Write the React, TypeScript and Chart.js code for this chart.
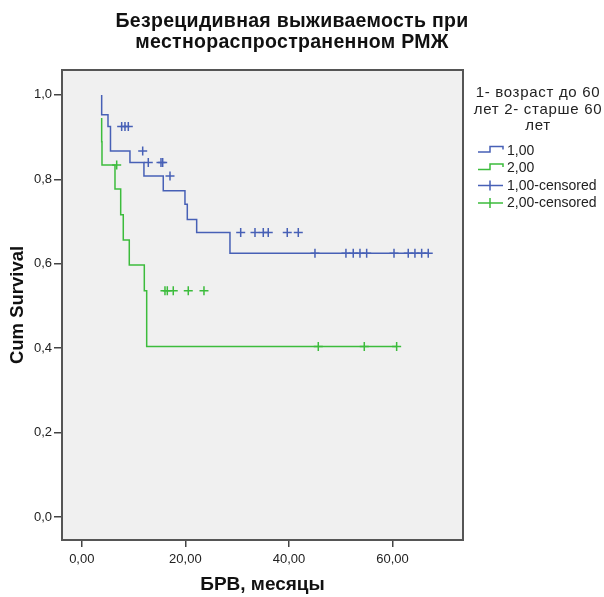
import React, { useEffect, useRef } from "react";
import { Chart, registerables } from "chart.js";

Chart.register(...registerables);

const FONT = '"Liberation Sans", Arial, Helvetica, sans-serif';

const TITLE_LINES = ["Безрецидивная выживаемость при", "местнораспространенном РМЖ"];
const X_TITLE = "БРВ, месяцы";
const Y_TITLE = "Cum Survival";
const LEGEND_TITLE = ["1- возраст до 60", "лет 2- старше 60", "лет"];
const SERIES_NAMES = ["1,00", "2,00", "1,00-censored", "2,00-censored"];

const xTicks = [0, 20, 40, 60];
const xTickLabels = ["0,00", "20,00", "40,00", "60,00"];
const yTicks = [0, 0.2, 0.4, 0.6, 0.8, 1.0];
const yTickLabels = ["0,0", "0,2", "0,4", "0,6", "0,8", "1,0"];

// Group 1 (age < 60)
const group1Start = 3.84;
const group1StartSurvival = 1.0;
const group1EventTimes = [5.06, 5.54, 9.3, 12.0, 15.73, 19.92, 20.37, 22.18, 28.61, 44.25];
const group1Survival = [0.953, 0.925, 0.867, 0.84, 0.808, 0.773, 0.741, 0.705, 0.674, 0.625];
const group1Censored = [7.7, 8.34, 8.98, 11.76, 12.84, 15.29, 15.62, 17.03, 30.68, 33.44, 35.04, 36.0, 39.67, 41.8, 45.02, 51.0, 52.41, 53.71, 55.0, 60.28, 63.03, 64.32, 65.62, 66.89];

// Group 2 (age > 60)
const group2Start = 3.84;
const group2StartSurvival = 0.945;
const group2EventTimes = [3.9, 6.41, 7.51, 8.01, 9.17, 12.07, 12.53, 32.61];
const group2Survival = [0.889, 0.834, 0.777, 0.716, 0.656, 0.597, 0.536, 0.404];
const group2Censored = [6.74, 16.06, 16.51, 17.66, 20.56, 23.59, 45.66, 54.54, 60.79];

const BLUE = "#4760b6";
const GREEN = "#3cbc3c";

function survivalAt(t: number, startS: number, times: number[], surv: number[]) {
  let s = startS;
  for (let i = 0; i < times.length; i++) if (times[i] <= t) s = surv[i];
  return s;
}

function curve(start: number, startS: number, times: number[], surv: number[], censored: number[]) {
  const pts = [{ x: start, y: startS }];
  times.forEach((t, i) => pts.push({ x: t, y: surv[i] }));
  const end = Math.max(...censored, ...times);
  pts.push({ x: end, y: survivalAt(end, startS, times, surv) });
  return pts;
}

function censorPts(startS: number, times: number[], surv: number[], censored: number[]) {
  return censored.map((t) => ({ x: t, y: survivalAt(t, startS, times, surv) }));
}

const plotFrame = {
  id: "plotFrame",
  beforeDatasetsDraw(chart: any) {
    const { ctx, chartArea } = chart;
    const { left, top, right, bottom } = chartArea;
    ctx.save();
    ctx.fillStyle = "#f0f0f0";
    ctx.fillRect(left, top, right - left, bottom - top);
    ctx.restore();
  },
  afterDatasetsDraw(chart: any) {
    const { ctx, chartArea } = chart;
    const { left, top, right, bottom } = chartArea;
    ctx.save();
    ctx.strokeStyle = "#555555";
    ctx.lineWidth = 2;
    ctx.strokeRect(left, top, right - left, bottom - top);
    ctx.restore();
  },
};

const textDecor = {
  id: "textDecor",
  afterDraw(chart: any) {
    const ctx = chart.ctx as CanvasRenderingContext2D;
    ctx.save();
    // Title
    ctx.fillStyle = "#111";
    ctx.font = `bold 19.5px ${FONT}`;
    (ctx as any).letterSpacing = "0.3px";
    ctx.textAlign = "center";
    ctx.textBaseline = "alphabetic";
    ctx.fillText(TITLE_LINES[0], 292, 27);
    ctx.fillText(TITLE_LINES[1], 292, 48);

    // Legend title
    ctx.fillStyle = "#222";
    ctx.font = `15px ${FONT}`;
    (ctx as any).letterSpacing = "0.7px";
    LEGEND_TITLE.forEach((line, i) => ctx.fillText(line, 538, 97 + i * 16.5));
    (ctx as any).letterSpacing = "0px";

    // Legend items
    const colors = [BLUE, GREEN, BLUE, GREEN];
    const ys = [150.5, 168, 185.5, 203];
    ctx.font = `14px ${FONT}`;
    ctx.textAlign = "left";
    ctx.textBaseline = "middle";
    SERIES_NAMES.forEach((name, i) => {
      const y = ys[i];
      ctx.strokeStyle = colors[i];
      ctx.lineWidth = 1.5;
      ctx.beginPath();
      if (i < 2) {
        ctx.moveTo(478, y + 1.5);
        ctx.lineTo(490, y + 1.5);
        ctx.lineTo(490, y - 4);
        ctx.lineTo(503, y - 4);
        ctx.lineTo(503, y - 1);
      } else {
        ctx.moveTo(478, y);
        ctx.lineTo(503, y);
        ctx.moveTo(490, y - 5);
        ctx.lineTo(490, y + 5);
      }
      ctx.stroke();
      ctx.fillStyle = "#222";
      ctx.fillText(name, 507, y + 0.5);
    });
    ctx.restore();
  },
};

export default function App() {
  const canvasRef = useRef<HTMLCanvasElement | null>(null);

  useEffect(() => {
    const canvas = canvasRef.current;
    if (!canvas) return;
    const chart = new Chart(canvas, {
      type: "line",
      data: {
        datasets: [
          {
            label: SERIES_NAMES[0],
            data: curve(group1Start, group1StartSurvival, group1EventTimes, group1Survival, group1Censored),
            borderColor: BLUE,
            borderWidth: 1.5,
            stepped: "after",
            pointRadius: 0,
            fill: false,
          },
          {
            label: SERIES_NAMES[1],
            data: curve(group2Start, group2StartSurvival, group2EventTimes, group2Survival, group2Censored),
            borderColor: GREEN,
            borderWidth: 1.5,
            stepped: "after",
            pointRadius: 0,
            fill: false,
          },
          {
            label: SERIES_NAMES[2],
            data: censorPts(group1StartSurvival, group1EventTimes, group1Survival, group1Censored),
            borderColor: BLUE,
            backgroundColor: BLUE,
            showLine: false,
            pointStyle: "cross",
            pointRadius: 4.5,
            pointBorderWidth: 1.5,
          },
          {
            label: SERIES_NAMES[3],
            data: censorPts(group2StartSurvival, group2EventTimes, group2Survival, group2Censored),
            borderColor: GREEN,
            backgroundColor: GREEN,
            showLine: false,
            pointStyle: "cross",
            pointRadius: 4.5,
            pointBorderWidth: 1.5,
          },
        ],
      },
      options: {
        responsive: false,
        animation: false,
        events: [],
        layout: { padding: { left: 0, top: 70, right: 141, bottom: 0 } },
        plugins: {
          legend: { display: false },
          title: { display: false },
          tooltip: { enabled: false },
        },
        scales: {
          x: {
            type: "linear",
            min: -3.82,
            max: 73.6,
            afterBuildTicks: (s: any) => {
              s.ticks = xTicks.map((v) => ({ value: v }));
            },
            afterFit: (s: any) => {
              s.height = 57;
            },
            grid: { drawOnChartArea: false, drawTicks: true, tickLength: 7, color: "#444", lineWidth: 1.5 },
            border: { display: false },
            ticks: {
              padding: 5,
              color: "#222",
              font: { size: 13, family: FONT },
              maxRotation: 0,
              autoSkip: false,
              callback: (v: any) => xTickLabels[xTicks.indexOf(Number(v))] ?? "",
            },
            title: {
              display: true,
              text: X_TITLE,
              color: "#111",
              font: { size: 19, weight: "bold", family: FONT },
              padding: { top: 0, bottom: 1 },
            },
          },
          y: {
            type: "linear",
            min: -0.0545,
            max: 1.059,
            afterBuildTicks: (s: any) => {
              s.ticks = yTicks.map((v) => ({ value: v }));
            },
            afterFit: (s: any) => {
              s.width = 62;
            },
            grid: { drawOnChartArea: false, drawTicks: true, tickLength: 8, color: "#444", lineWidth: 1.5 },
            border: { display: false },
            ticks: {
              padding: 2,
              color: "#222",
              font: { size: 13, family: FONT },
              autoSkip: false,
              callback: (v: any) => {
                const idx = yTicks.findIndex((t) => Math.abs(t - Number(v)) < 1e-6);
                return idx >= 0 ? yTickLabels[idx] : "";
              },
            },
            title: {
              display: true,
              text: Y_TITLE,
              color: "#111",
              font: { size: 18.5, weight: "bold", family: FONT },
              padding: { top: 7, bottom: 0 },
            },
          },
        },
      },
      plugins: [plotFrame, textDecor],
    } as any);
    return () => chart.destroy();
  }, []);

  return (
    <div style={{ position: "fixed", left: 0, top: 0, width: 604, height: 597, background: "#fff" }}>
      <canvas ref={canvasRef} width={604} height={597} style={{ display: "block" }} />
    </div>
  );
}
